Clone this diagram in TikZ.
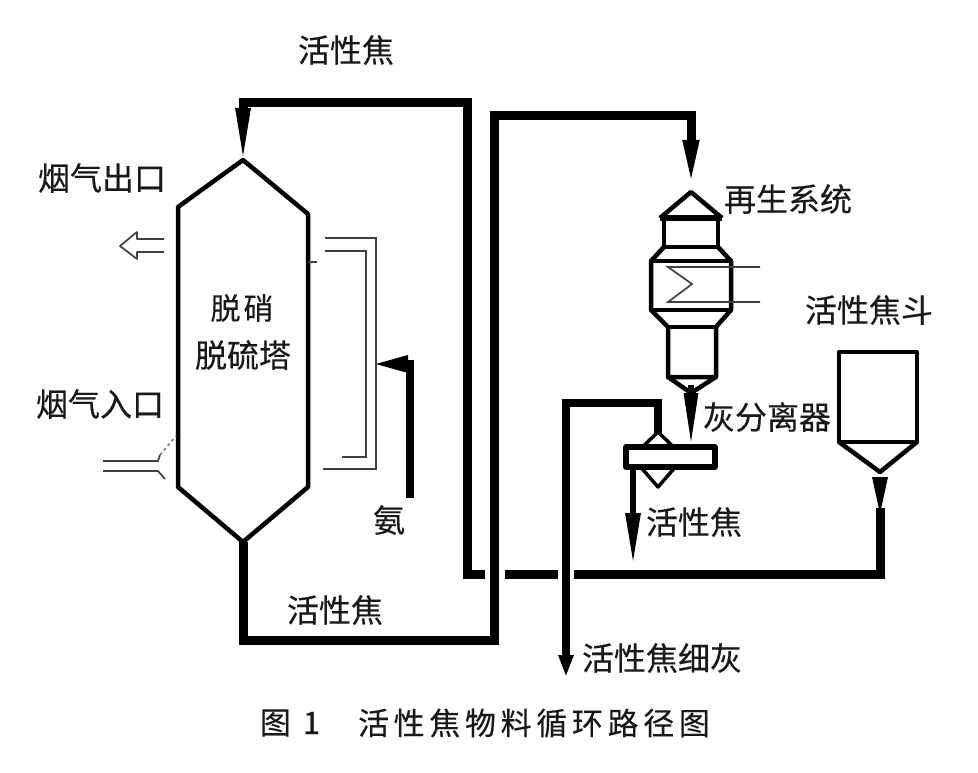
\documentclass[tikz,border=0pt]{standalone}
\usepackage{fontspec}
\newfontfamily\cjk[FakeBold=0.35]{Noto Sans CJK SC}
\newfontfamily\cjkcap[LetterSpace=15, FakeBold=0.35]{Noto Sans CJK SC}
\usetikzlibrary{arrows.meta}

\begin{document}
\begin{tikzpicture}[x=1pt, y=-1pt,
  lbl/.style={font=\cjk\fontsize{32}{36}\selectfont, text=black!90, inner sep=0pt},
  captxt/.style={font=\cjkcap\fontsize{31}{34}\selectfont, text=black!90, inner sep=0pt},
  wall/.style={line width=4.5pt, line join=round},
  pipe/.style={line width=9pt},
  thinline/.style={line width=1.7pt, black!75},
  tipa/.style={-{Triangle[length=52pt, width=14pt]}},
  tipb/.style={-{Triangle[length=22pt, width=14pt]}},
]
  \useasboundingbox (0,0) rectangle (978,773);
  % 脱硝脱硫塔
  \coordinate (TT) at (243,160);
  \coordinate (TR) at (308,214);
  \coordinate (TRb) at (308,487);
  \coordinate (TB) at (243,542);
  \coordinate (TLb) at (178,487);
  \coordinate (TL) at (178,207);
  \draw[wall] (TT) -- (TR) -- (TRb) -- (TB) -- (TLb) -- (TL) -- cycle;
  \draw[thinline] (308,262) -- (317,262);
  % 活性焦 主管路
  \coordinate (P1) at (243,640);
  \coordinate (P2) at (494,640);
  \coordinate (P3) at (494,116);
  \coordinate (P4) at (691,116);
  \coordinate (RT) at (691,192);
  \draw[pipe, tipa] (TB) -- (P1) -- (P2) -- (P3) -- (P4) -- (RT);
  % 活性焦斗 回料
  \coordinate (HA) at (880,472);
  \coordinate (HC) at (880,574);
  \coordinate (G1) at (574,574);
  \coordinate (G2) at (558,574);
  \coordinate (G3) at (505,574);
  \coordinate (G4) at (485,574);
  \coordinate (Q1) at (467,574);
  \coordinate (Q2) at (467,103);
  \coordinate (Q3) at (243,103);
  \draw[pipe] (880,508) -- (HC) -- (G1);
  \draw[pipe] (G2) -- (G3);
  \draw[pipe] (G4) -- (Q1) -- (Q2) -- (Q3) -- (243,125);
  \draw[line width=6pt, tipa] (243,108) -- (TT);
  \draw[line width=6pt, -{Triangle[length=40pt, width=14pt]}] (880,477) -- (880,517);
  % 再生系统
  \coordinate (R1) at (660,218);
  \coordinate (R2) at (722,218);
  \coordinate (R3) at (664,247);
  \coordinate (R4) at (718,247);
  \coordinate (R5) at (651,261);
  \coordinate (R6) at (731,261);
  \coordinate (R7) at (651,310);
  \coordinate (R8) at (731,310);
  \coordinate (R9) at (668,327);
  \coordinate (R10) at (716,327);
  \coordinate (R11) at (668,377);
  \coordinate (R12) at (716,377);
  \coordinate (RB) at (691,393);
  \draw[wall] (R1) -- (RT) -- (R2);
  \draw[wall, line width=6pt] (R1) -- (R2);
  \draw[wall] (664,218) -- (R3) -- (R4) -- (718,218);
  \draw[wall] (R3) -- (R5) -- (R7) -- (R9) -- (R11) -- (R12) -- (R10) -- (R8) -- (R6) -- (R4);
  \draw[wall] (R5) -- (R6);
  \draw[wall] (R7) -- (R8);
  \draw[wall] (R9) -- (R10);
  \draw[wall] (R11) -- (RB) -- (R12);
  % 换热管
  \coordinate (E1) at (668,267);
  \coordinate (E2) at (692,284);
  \coordinate (E3) at (668,302);
  \draw[thinline] (760,267) -- (E1) -- (E2) -- (E3) -- (760,302);
  % 灰分离器
  \coordinate (S1) at (626,447);
  \coordinate (S2) at (715,467);
  \coordinate (ST) at (658,432);
  \coordinate (SB) at (658,487);
  \draw[wall, line width=3.5pt] (ST) -- (684,457) -- (SB) -- (632,457) -- cycle;
  \draw[wall, line width=5.5pt, fill=white] (S1) rectangle (S2);
  \draw[line width=6pt, -{Triangle[length=54pt, width=13pt]}] (691,385) -- (691,447);
  \draw[line width=6pt, -{Triangle[length=52pt, width=14pt]}] (633,467) -- (633,565);
  % 活性焦细灰
  \coordinate (F1) at (658,403);
  \coordinate (F2) at (566,403);
  \draw[pipe, line width=8pt, tipb] (658,434) -- (F1) -- (F2) -- (566,677);
  % 活性焦斗
  \coordinate (H1) at (839,352);
  \coordinate (H2) at (917,352);
  \coordinate (H3) at (917,442);
  \coordinate (H4) at (839,442);
  \draw[wall] (H1) -- (H2) -- (H3) -- (H4) -- cycle;
  \draw[wall] (H4) -- (HA) -- (H3);
  % 氨
  \coordinate (N1) at (410,498);
  \coordinate (N2) at (410,364);
  \coordinate (N3) at (370,364);
  \draw[pipe, line width=8pt, -{Triangle[length=38pt, width=15pt]}] (N1) -- (N2) -- (N3);
  \draw[thinline] (325,238) -- (376,238) -- (376,469) -- (323,469);
  \draw[thinline] (325,251) -- (366,251) -- (366,457) -- (342,457);
  % 烟气
  \coordinate (O1) at (120,246);
  \draw[thinline, line join=round] (164,239) -- (137,239) -- (137,232) -- (O1) -- (137,259) -- (137,252) -- (164,252);
  \coordinate (I1) at (176,436);
  \draw[thinline] (103,461) -- (158,461) -- (160,455);
  \draw[thinline] (103,471) -- (158,471) -- (165,479);
  \draw[thinline, dashed, black!50] (160,455) -- (I1);
  % 文字
  \node[lbl] (cokeTop) at (346,50) {活性焦};
  \node[lbl] (gasOut) at (102,178) {烟气出口};
  \node[lbl] (gasIn) at (100,404) {烟气入口};
  \node[lbl, font=\cjk\fontsize{30}{34}\selectfont] (towerA) at (242,308) {脱\hspace{3pt}硝};
  \node[lbl] (towerB) at (243,355) {脱硫塔};
  \node[lbl] (ammonia) at (389,520) {氨};
  \node[lbl] (cokeBot) at (335,610) {活性焦};
  \node[lbl] (regen) at (788,199) {再生系统};
  \node[lbl] (hopper) at (869,310) {活性焦斗};
  \node[lbl] (sep) at (767,417) {灰分离器};
  \node[lbl] (cokeMid) at (694,522) {活性焦};
  \node[lbl] (fines) at (662,658) {活性焦细灰};
  \node[captxt] (figno) at (290,723) {图\hspace{12pt}1};
  \node[captxt] (title) at (534,723) {活性焦物料循环路径图};
\end{tikzpicture}
\end{document}
